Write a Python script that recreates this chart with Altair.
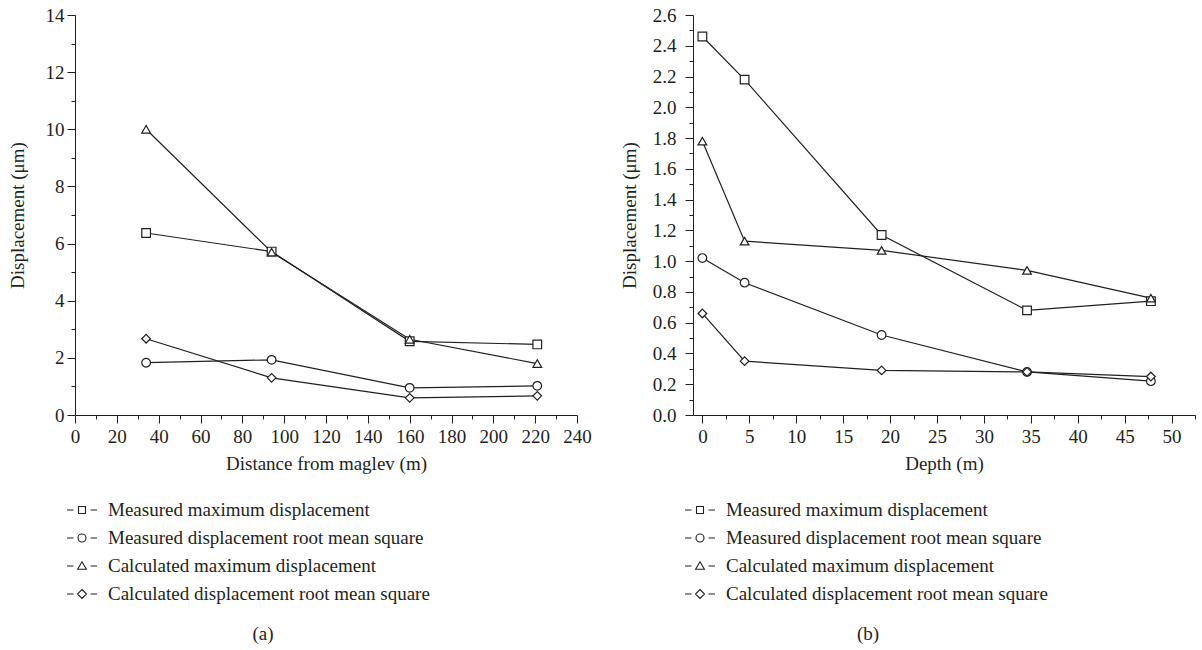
import altair as alt
import pandas as pd

FONT = "Liberation Serif"
INK = "#231f20"

SERIES = [
    "Measured maximum displacement",
    "Measured displacement root mean square",
    "Calculated maximum displacement",
    "Calculated displacement root mean square",
]
MARKERS = ["square", "circle", "triangle-up", "diamond"]
# legend glyphs: a short dash on each side of the marker
KEY_GLYPHS = [
    "M-1.5,0H-0.85M-0.35,-0.35H0.35V0.35H-0.35ZM0.85,0H1.5",
    "M-1.5,0H-0.85M0.4,0A0.4,0.4 0 1,1 -0.4,0A0.4,0.4 0 1,1 0.4,0ZM0.85,0H1.5",
    "M-1.5,0H-0.85M0,-0.42L0.44,0.32H-0.44ZM0.85,0H1.5",
    "M-1.5,0H-0.85M0,-0.45L0.45,0L0,0.45L-0.45,0ZM0.85,0H1.5",
]

# (a) distance from the maglev line (m)
dist_m = [34, 94, 160, 221]
a_meas_max = [6.37, 5.72, 2.58, 2.47]
a_meas_rms = [1.83, 1.93, 0.95, 1.02]
a_calc_max = [10.0, 5.70, 2.65, 1.80]
a_calc_rms = [2.67, 1.30, 0.60, 0.67]

# (b) depth below ground (m)
depth_m = [0, 4.5, 19.1, 34.6, 47.8]
b_meas_max = [2.46, 2.18, 1.17, 0.68, 0.74]
b_meas_rms = [1.02, 0.86, 0.52, 0.28, 0.22]
b_calc_max = [1.78, 1.13, 1.07, 0.94, 0.76]
b_calc_rms = [0.66, 0.35, 0.29, 0.28, 0.25]

# axis tick positions (major ticks carry labels, minor ones do not)
a_x_ticks = list(range(0, 241, 10))
a_y_ticks = list(range(0, 15, 1))
b_x_ticks = [i * 2.5 for i in range(0, 22)]
b_y_ticks = [round(i * 0.1, 1) for i in range(0, 27)]


def long_frame(xs, columns):
    rows = []
    for name, vals in zip(SERIES, columns):
        for x, v in zip(xs, vals):
            rows.append({"x": x, "y": v, "series": name})
    return pd.DataFrame(rows)


def make_axis(title, ticks, major_test, fmt=None, label_pad=4, title_pad=8):
    kw = dict(
        title=title,
        values=ticks,
        labelExpr=f"({major_test}) ? datum.label : ''",
        tickSize={"condition": {"test": major_test, "value": 8}, "value": 4},
        labelPadding=label_pad,
        titlePadding=title_pad,
    )
    if fmt:
        kw["format"] = fmt
    return alt.Axis(**kw)


def panel(df, x_axis, x_domain, y_axis, y_domain, letter, title_dx, legend_x):
    base = alt.Chart(df).encode(
        x=alt.X("x:Q", scale=alt.Scale(domain=x_domain, nice=False, zero=False), axis=x_axis),
        y=alt.Y("y:Q", scale=alt.Scale(domain=y_domain, nice=False), axis=y_axis),
    )
    lines = base.mark_line(color=INK, strokeWidth=1.2).encode(detail="series:N")
    points = base.mark_point(
        filled=True, fill="white", stroke=INK, strokeWidth=1.2, size=75, opacity=1
    ).encode(
        shape=alt.Shape("series:N", scale=alt.Scale(domain=SERIES, range=MARKERS), legend=None)
    )
    key = (
        alt.Chart(df)
        .transform_filter("false")
        .mark_point(filled=False, color=INK, strokeWidth=1.1, opacity=1)
        .encode(
            shape=alt.Shape(
                "series:N",
                scale=alt.Scale(domain=SERIES, range=KEY_GLYPHS),
                legend=alt.Legend(
                    title=None,
                    orient="none",
                    legendX=legend_x,
                    legendY=484,
                    padding=0,
                    symbolSize=400,
                    symbolFillColor="white",
                    symbolStrokeColor=INK,
                    symbolStrokeWidth=1.1,
                    symbolOpacity=1,
                    labelFont=FONT,
                    labelFontSize=19,
                    labelColor=INK,
                    labelOffset=15,
                    labelLimit=0,
                    rowPadding=7,
                ),
            )
        )
    )
    return (
        alt.layer(lines, points, key)
        .resolve_scale(shape="independent")
        .properties(
            width=502,
            height=400,
            title=alt.TitleParams(
                letter, orient="bottom", anchor="middle", dx=title_dx, offset=21,
                font=FONT, fontSize=19, fontWeight="normal", color=INK,
            ),
        )
    )


df_a = long_frame(dist_m, [a_meas_max, a_meas_rms, a_calc_max, a_calc_rms])
df_b = long_frame(depth_m, [b_meas_max, b_meas_rms, b_calc_max, b_calc_rms])

panel_a = panel(
    df_a,
    make_axis("Distance from maglev (m)", a_x_ticks, "datum.value % 20 == 0", label_pad=4, title_pad=8),
    [0, 240],
    make_axis("Displacement (μm)", a_y_ticks, "datum.value % 2 == 0", label_pad=3, title_pad=18),
    [0, 14],
    "(a)",
    -63,
    -4,
)
panel_b = panel(
    df_b,
    make_axis("Depth (m)", b_x_ticks, "datum.value % 5 == 0", label_pad=4, title_pad=8),
    [-1, 52.5],
    make_axis("Displacement (μm)", b_y_ticks, "round(datum.value * 10) % 2 == 0", fmt=".1f",
              label_pad=9, title_pad=13),
    [0, 2.6],
    "(b)",
    -76,
    -4,
)

chart = (
    alt.hconcat(panel_a, panel_b, spacing=116, bounds="flush")
    .resolve_scale(shape="independent")
    .resolve_legend(shape="independent")
    .properties(padding={"left": 8, "top": 6, "right": 5, "bottom": 5})
    .configure_view(stroke=None)
    .configure_axis(
        grid=False,
        labelFont=FONT,
        labelFontSize=19,
        labelColor=INK,
        titleFont=FONT,
        titleFontSize=19,
        titleFontWeight="normal",
        titleColor=INK,
        domainColor=INK,
        domainWidth=1,
        tickColor=INK,
        tickWidth=1,
        labelFlush=False,
        labelOverlap=False,
        labelBound=False,
    )
)

chart.save("out.html", embed_options={"renderer": "svg", "actions": False})
